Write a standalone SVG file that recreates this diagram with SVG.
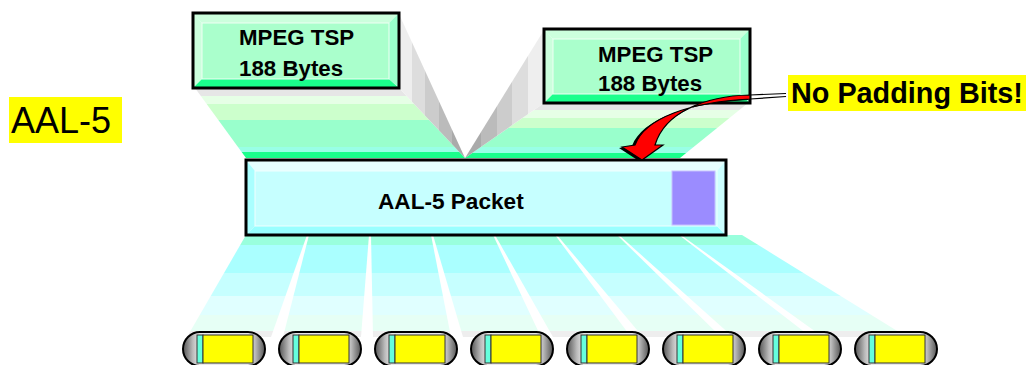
<svg xmlns="http://www.w3.org/2000/svg" width="1026" height="365" viewBox="0 0 1026 365">
<defs>
<style>
.bold{font-family:"Liberation Sans",Arial,sans-serif;font-weight:bold;fill:#000}
.reg{font-family:"Liberation Sans",Arial,sans-serif;fill:#000}
.outline{fill:none;stroke:#000;stroke-width:3}
.pill{fill:url(#pillG);stroke:#000;stroke-width:2}
.cy{fill:#66ffdd;stroke:#333;stroke-width:1}
.ye{fill:#ffff00;stroke:#333;stroke-width:1}
.gap{fill:#fff}
</style>
<linearGradient id="g1" gradientUnits="userSpaceOnUse" x1="0" y1="88" x2="0" y2="158">
<stop offset="0" stop-color="#e6e6e6"/><stop offset="0.12" stop-color="#e6e6e6"/>
<stop offset="0.12" stop-color="#e6ffe6"/><stop offset="0.23" stop-color="#e6ffe6"/>
<stop offset="0.23" stop-color="#ccffcc"/><stop offset="0.45" stop-color="#ccffcc"/>
<stop offset="0.45" stop-color="#99ffcc"/><stop offset="0.84" stop-color="#99ffcc"/>
<stop offset="0.84" stop-color="#99ffe6"/><stop offset="0.92" stop-color="#99ffe6"/>
<stop offset="0.92" stop-color="#1aff8c"/><stop offset="1" stop-color="#1aff8c"/>
</linearGradient>
<linearGradient id="g2" gradientUnits="userSpaceOnUse" x1="0" y1="103" x2="0" y2="158">
<stop offset="0" stop-color="#e6e6e6"/><stop offset="0.13" stop-color="#e6e6e6"/>
<stop offset="0.13" stop-color="#e6ffe6"/><stop offset="0.27" stop-color="#e6ffe6"/>
<stop offset="0.27" stop-color="#ccffcc"/><stop offset="0.45" stop-color="#ccffcc"/>
<stop offset="0.45" stop-color="#99ffcc"/><stop offset="0.80" stop-color="#99ffcc"/>
<stop offset="0.80" stop-color="#99ffe6"/><stop offset="0.90" stop-color="#99ffe6"/>
<stop offset="0.90" stop-color="#1aff8c"/><stop offset="1" stop-color="#1aff8c"/>
</linearGradient>
<linearGradient id="wl" gradientUnits="userSpaceOnUse" x1="399" y1="0" x2="465" y2="0">
<stop offset="0" stop-color="#eeeeee"/><stop offset="0.2" stop-color="#eeeeee"/>
<stop offset="0.2" stop-color="#dddddd"/><stop offset="0.4" stop-color="#dddddd"/>
<stop offset="0.4" stop-color="#cccccc"/><stop offset="0.6" stop-color="#cccccc"/>
<stop offset="0.6" stop-color="#bbbbbb"/><stop offset="0.8" stop-color="#bbbbbb"/>
<stop offset="0.8" stop-color="#aaaaaa"/><stop offset="1" stop-color="#aaaaaa"/>
</linearGradient>
<linearGradient id="wr" gradientUnits="userSpaceOnUse" x1="465" y1="0" x2="544" y2="0">
<stop offset="0" stop-color="#aaaaaa"/><stop offset="0.2" stop-color="#aaaaaa"/>
<stop offset="0.2" stop-color="#bbbbbb"/><stop offset="0.4" stop-color="#bbbbbb"/>
<stop offset="0.4" stop-color="#cccccc"/><stop offset="0.6" stop-color="#cccccc"/>
<stop offset="0.6" stop-color="#dddddd"/><stop offset="0.8" stop-color="#dddddd"/>
<stop offset="0.8" stop-color="#eeeeee"/><stop offset="1" stop-color="#eeeeee"/>
</linearGradient>
<linearGradient id="fan" gradientUnits="userSpaceOnUse" x1="0" y1="235" x2="0" y2="337">
<stop offset="0" stop-color="#99ffdd"/><stop offset="0.1" stop-color="#99ffdd"/>
<stop offset="0.1" stop-color="#aaffff"/><stop offset="0.37" stop-color="#aaffff"/>
<stop offset="0.37" stop-color="#c6ffff"/><stop offset="0.6" stop-color="#c6ffff"/>
<stop offset="0.6" stop-color="#e0ffff"/><stop offset="0.78" stop-color="#e0ffff"/>
<stop offset="0.78" stop-color="#e6fff5"/><stop offset="0.94" stop-color="#e6fff5"/>
<stop offset="0.94" stop-color="#eeeeee"/><stop offset="1" stop-color="#eeeeee"/>
</linearGradient>
<linearGradient id="pillG" x1="0" y1="0" x2="1" y2="0">
<stop offset="0" stop-color="#555555"/><stop offset="0.12" stop-color="#bbbbbb"/>
<stop offset="0.2" stop-color="#e8e8e8"/><stop offset="0.8" stop-color="#e8e8e8"/>
<stop offset="0.88" stop-color="#bbbbbb"/><stop offset="1" stop-color="#555555"/>
</linearGradient>
</defs>

<rect width="1026" height="365" fill="#fff"/>

<g id="funnels">
<polygon points="195,88 399,88 465,158 246,158" fill="url(#g1)"/>
<polygon points="399,14 465,158 399,88" fill="url(#wl)"/>
<polygon points="544,103 748,103 680,158 465,158" fill="url(#g2)"/>
<polygon points="544,30 544,103 465,158" fill="url(#wr)"/>
</g>

<g id="fan-out">
<polygon points="246,235 742,235 907,337 187,337" fill="url(#fan)"/>
<g class="gap">
<polygon points="307,235 309,235 283,337 271,337"/>
<polygon points="369,235 371,235 373,337 361,337"/>
<polygon points="431,235 433,235 463,337 451,337"/>
<polygon points="493,235 495,235 553,337 541,337"/>
<polygon points="555,235 557,235 643,337 631,337"/>
<polygon points="617,235 619,235 733,337 721,337"/>
<polygon points="679,235 681,235 823,337 811,337"/>
</g>
</g>

<g id="tsp1">
<polygon points="193,13 399,13 389,23 202,23" fill="#ccffdd"/>
<polygon points="193,13 202,23 202,79 193,88" fill="#ccffdd"/>
<polygon points="193,88 202,79 389,79 399,88" fill="#1aff8c"/>
<polygon points="399,13 399,88 389,79 389,23" fill="#99ffcc"/>
<rect x="202" y="23" width="187" height="56" fill="#aaffcc" stroke="#eefff4" stroke-width="1"/>
<rect x="193" y="13" width="206" height="75" class="outline"/>
<text x="239" y="45" class="bold" font-size="22.3">MPEG TSP</text>
<text x="239" y="76" class="bold" font-size="22.3">188 Bytes</text>
</g>

<g id="tsp2">
<polygon points="544,29 750,29 740,39 553,39" fill="#ccffdd"/>
<polygon points="544,29 553,39 553,94 544,103" fill="#ccffdd"/>
<polygon points="544,103 553,94 740,94 750,103" fill="#1aff8c"/>
<polygon points="750,29 750,103 740,94 740,39" fill="#99ffcc"/>
<rect x="553" y="39" width="187" height="55" fill="#aaffcc" stroke="#eefff4" stroke-width="1"/>
<rect x="544" y="29" width="206" height="74" class="outline"/>
<text x="598" y="62" class="bold" font-size="22.3">MPEG TSP</text>
<text x="598" y="91" class="bold" font-size="22.3">188 Bytes</text>
</g>

<g id="packet">
<polygon points="246,160 726,160 717,171 255,171" fill="#e6ffff"/>
<polygon points="246,160 255,171 255,226 246,235" fill="#aaffff"/>
<polygon points="246,235 255,226 717,226 726,235" fill="#99ffff"/>
<polygon points="726,160 726,235 717,226 717,171" fill="#ccffff"/>
<rect x="255" y="171" width="462" height="55" fill="#c6ffff" stroke="#f0ffff" stroke-width="1"/>
<rect x="672" y="171" width="43" height="54" fill="#9b8cff" stroke="#c8c0ff" stroke-width="1"/>
<rect x="246" y="160" width="480" height="75" class="outline"/>
<text x="378" y="209" class="bold" font-size="22.6">AAL-5 Packet</text>
</g>

<g id="cells">
<g id="cell1"><rect x="183" y="332" width="82" height="34" rx="17" class="pill"/><rect x="197" y="335" width="6" height="28" class="cy"/><rect x="203" y="335" width="50" height="28" class="ye"/></g>
<g id="cell2"><rect x="279" y="332" width="82" height="34" rx="17" class="pill"/><rect x="293" y="335" width="6" height="28" class="cy"/><rect x="299" y="335" width="50" height="28" class="ye"/></g>
<g id="cell3"><rect x="375" y="332" width="82" height="34" rx="17" class="pill"/><rect x="389" y="335" width="6" height="28" class="cy"/><rect x="395" y="335" width="50" height="28" class="ye"/></g>
<g id="cell4"><rect x="471" y="332" width="82" height="34" rx="17" class="pill"/><rect x="485" y="335" width="6" height="28" class="cy"/><rect x="491" y="335" width="50" height="28" class="ye"/></g>
<g id="cell5"><rect x="567" y="332" width="82" height="34" rx="17" class="pill"/><rect x="581" y="335" width="6" height="28" class="cy"/><rect x="587" y="335" width="50" height="28" class="ye"/></g>
<g id="cell6"><rect x="663" y="332" width="82" height="34" rx="17" class="pill"/><rect x="677" y="335" width="6" height="28" class="cy"/><rect x="683" y="335" width="50" height="28" class="ye"/></g>
<g id="cell7"><rect x="759" y="332" width="82" height="34" rx="17" class="pill"/><rect x="773" y="335" width="6" height="28" class="cy"/><rect x="779" y="335" width="50" height="28" class="ye"/></g>
<g id="cell8"><rect x="855" y="332" width="82" height="34" rx="17" class="pill"/><rect x="869" y="335" width="6" height="28" class="cy"/><rect x="875" y="335" width="50" height="28" class="ye"/></g>
</g>

<g id="label-aal5">
<rect x="9" y="97" width="113" height="46" fill="#ffff00"/>
<text x="11" y="133" class="reg" font-size="36">AAL-5</text>
</g>

<g id="label-nopad">
<rect x="788" y="75" width="238" height="36" fill="#ffff00"/>
<text x="791" y="103" class="bold" font-size="28.8">No Padding Bits!</text>
</g>

<g id="connectors">
<line x1="786" y1="93.5" x2="750" y2="95" stroke="#000" stroke-width="1.2"/>
<line x1="786" y1="96.5" x2="750" y2="99" stroke="#000" stroke-width="1.2"/>
<path d="M750,96 C705,97 665,113 652,146 L660,146 L639,161 L619,148 L632,146 C642,119 688,103 748,100 Z" fill="#000"/>
<path d="M750,95 C705,96 665,112 655,145 L663,145 L642,160 L622,147 L635,145 C645,118 690,102 750,99 Z" fill="#ff0000" stroke="#000" stroke-width="1.2" stroke-linejoin="miter"/>
</g>
</svg>
